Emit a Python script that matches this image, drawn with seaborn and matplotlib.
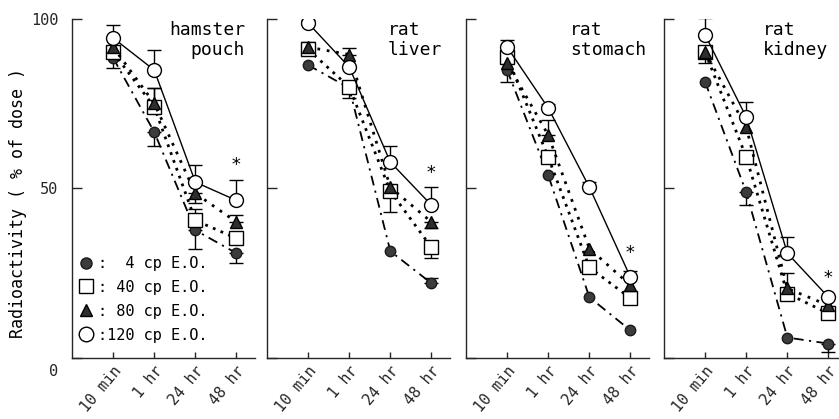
import numpy as np
import pandas as pd
import matplotlib
matplotlib.use("Agg")
import matplotlib.pyplot as plt
import matplotlib.transforms as mtransforms
from matplotlib.lines import Line2D
import seaborn as sns

# ---------------- data ----------------
times = ["10 min", "1 hr", "24 hr", "48 hr"]
doses = ["4", "40", "80", "120"]
panel_titles = ["hamster\npouch", "rat\nliver", "rat\nstomach", "rat\nkidney"]

# values (% of dose) per dose, for each tissue
hamster_pouch = {"4": [88.5, 66.6, 37.6, 30.8], "40": [90.2, 74.0, 40.5, 35.2],
                 "80": [91.7, 75.1, 48.5, 40.0], "120": [94.4, 84.9, 51.8, 46.4]}
rat_liver = {"4": [86.4, 79.6, 31.4, 21.9], "40": [91.0, 79.9, 49.1, 32.5],
             "80": [91.7, 89.5, 50.3, 40.0], "120": [98.8, 85.8, 57.7, 45.0]}
rat_stomach = {"4": [84.9, 53.8, 17.8, 8.0], "40": [88.8, 59.2, 26.6, 17.5],
               "80": [87.0, 65.7, 32.2, 21.3], "120": [91.7, 73.7, 50.3, 23.7]}
rat_kidney = {"4": [81.4, 48.8, 5.9, 4.1], "40": [90.2, 59.2, 18.9, 13.0],
              "80": [90.2, 68.0, 20.4, 15.4], "120": [95.3, 71.0, 30.8, 17.8]}

# one-sided error bars (+ = upward, - = downward, 0 = none)
hamster_pouch_err = {"4": [0, -4.0, -5.4, -3.0], "40": [-4.7, 5.6, 3.5, 0],
                     "80": [0, 4.5, -2.9, 2.0], "120": [3.8, 5.9, 5.0, 6.0]}
rat_liver_err = {"4": [0, -3.0, 0, 1.5], "40": [0, 0, -6.2, -3.2],
                 "80": [1.5, 2.0, 0, -1.8], "120": [1.0, 0, 4.7, 5.3]}
rat_stomach_err = {"4": [0, 0, 0, 0], "40": [-7.5, 0, 0, 0],
                   "80": [0, 4.5, 0, 0], "120": [2.1, 1.3, 1.5, 2.0]}
rat_kidney_err = {"4": [0, -3.8, 0, -2.6], "40": [0, 0, 0, 0],
                  "80": [-3.2, 0, 4.7, 0], "120": [5.0, 4.4, 4.7, 0]}

# significance asterisk height at 48 hr
star_y = [57.0, 54.5, 31.0, 23.5]

panels = [hamster_pouch, rat_liver, rat_stomach, rat_kidney]
panel_errs = [hamster_pouch_err, rat_liver_err, rat_stomach_err, rat_kidney_err]
legend_labels = [":  4 cp E.O.", ": 40 cp E.O.", ": 80 cp E.O.", ":120 cp E.O."]

# ---------------- style ----------------
sns.set_style("ticks")
plt.rcParams["font.family"] = ["DejaVu Sans Mono", "DejaVu Sans"]
plt.rcParams["text.color"] = "black"
plt.rcParams["axes.linewidth"] = 1.0

styles = {
    "4":   dict(marker="o", markersize=7.5, markerfacecolor="#3c3c3c", markeredgecolor="#1a1a1a",
                linestyle=(0, (5.5, 3, 1.2, 3)), linewidth=1.3, zorder=3),
    "40":  dict(marker="s", markersize=9.5, markerfacecolor="white", markeredgecolor="black",
                linestyle=(0, (1, 2.0)), linewidth=2.0, zorder=4),
    "80":  dict(marker="^", markersize=8.5, markerfacecolor="#2e2e2e", markeredgecolor="black",
                linestyle=(0, (1, 2.4)), linewidth=2.0, zorder=5),
    "120": dict(marker="o", markersize=10, markerfacecolor="white", markeredgecolor="black",
                linestyle="-", linewidth=1.0, zorder=6),
}

fig = plt.figure(figsize=(8.39, 4.19), dpi=100)
fig.patch.set_facecolor("white")

W, H = 839.0, 419.0
lefts_px = [72, 267, 466, 664]
width_px = 183
bottom = (H - 357.5) / H
height = (357.5 - 19) / H

text_x = [0.945, 0.661, 0.568, 0.541]
text_ha = ["right", "left", "left", "left"]

pos = np.arange(len(times))

for i, (vals, errs) in enumerate(zip(panels, panel_errs)):
    ax = fig.add_axes([lefts_px[i] / W, bottom, width_px / W, height])
    ax.set_facecolor("white")
    for d in doses:
        df = pd.DataFrame({"t": pos, "v": vals[d]})
        st = styles[d]
        sns.lineplot(data=df, x="t", y="v", ax=ax, color="black", sort=False,
                     marker=st["marker"], markersize=st["markersize"],
                     markerfacecolor=st["markerfacecolor"],
                     markeredgecolor=st["markeredgecolor"], markeredgewidth=1.0,
                     linestyle=st["linestyle"], linewidth=st["linewidth"],
                     zorder=st["zorder"], legend=False)
        e = np.array(errs[d], dtype=float)
        m = e != 0
        if m.any():
            lower = np.where(e < 0, -e, 0)[m]
            upper = np.where(e > 0, e, 0)[m]
            ax.errorbar(pos[m], np.array(vals[d])[m], yerr=[lower, upper], fmt="none",
                        ecolor="black", elinewidth=1.0, capsize=5, capthick=1.0, zorder=2)
    ax.text(3, star_y[i], "*", ha="center", va="center", fontsize=13)
    ax.text(text_x[i], 0.995, panel_titles[i], transform=ax.transAxes,
            ha=text_ha[i], va="top", fontsize=13, linespacing=1.15,
            multialignment=text_ha[i])

    ax.set_xlim(-1.0, 3.45)
    ax.set_ylim(0, 100)
    ax.set_xlabel("")
    ax.set_ylabel("")
    sns.despine(ax=ax)
    ax.set_xticks(pos)
    ax.set_xticklabels(times, rotation=50, ha="right", va="top",
                       rotation_mode="anchor", fontsize=11)
    ax.set_yticks([0, 50, 100])
    ax.tick_params(axis="y", direction="in", length=7, width=1, pad=10, labelsize=11)
    ax.tick_params(axis="x", direction="in", length=4.5, width=1, pad=4)
    if i == 0:
        ax.set_yticklabels(["0", "50", "100"])
        off = mtransforms.ScaledTranslation(0, -12 / 100, fig.dpi_scale_trans)
        for lab in ax.get_yticklabels():
            if lab.get_text() == "0":
                lab.set_transform(lab.get_transform() + off)
        handles = [Line2D([], [], linestyle="none", color="black",
                          marker=styles[d]["marker"],
                          markersize=styles[d]["markersize"] + 0.5,
                          markerfacecolor=styles[d]["markerfacecolor"],
                          markeredgecolor=styles[d]["markeredgecolor"],
                          markeredgewidth=1.0) for d in doses]
        ax.legend(handles, legend_labels, loc="upper left",
                  bbox_to_anchor=(0.035, 0.30), frameon=False, fontsize=11,
                  handlelength=1.0, handletextpad=0.3, labelspacing=0.58,
                  borderpad=0, borderaxespad=0)
    else:
        ax.set_yticklabels([])

fig.text(18 / W, (H - 203) / H, "Radioactivity ( % of dose )", rotation=90,
         ha="center", va="center", fontsize=12)

fig.savefig("out.png", dpi=100, facecolor="white")
